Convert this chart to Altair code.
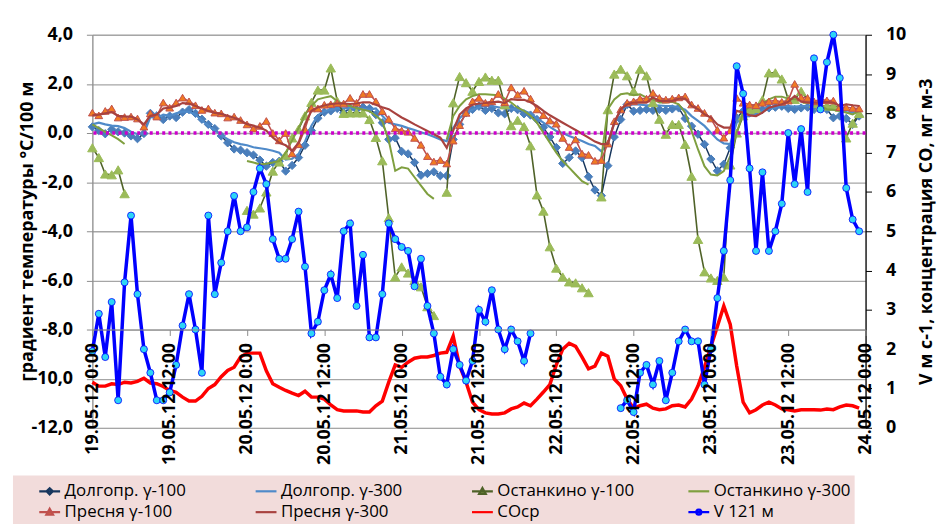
import altair as alt
import pandas as pd

# ---------------- data (hourly, 19.05.2012 00:00 ... ) ----------------
START = "2012-05-19T00:00:00Z"
SERIES = ["Долгопр. γ-100", "Долгопр. γ-300", "Останкино γ-100", "Останкино γ-300",
          "Пресня γ-100", "Пресня γ-300", "СОср", "V 121 м"]
TICK_HOURS = list(range(0, 121, 12))
LEFT_TICKS = list(range(-12, 5, 2))
RIGHT_TICKS = list(range(0, 11))
N = None

dolg100 = [0.25, 0.10, -0.03, 0.15, 0.05, 0.00, -0.12, -0.23, -0.02, 0.80,
           0.70, 0.55, 0.69, 0.63, 0.85, 0.95, 0.80, 0.56, 0.35, 0.18,
           -0.12, -0.40, -0.65, -0.70, -0.80, -0.90, -1.10, -1.35, -1.20, -1.15,
           -1.55, -1.32, -1.00, -0.50, 0.10, 0.60, 0.85, 0.90, 1.00, 0.82,
           1.00, 0.95, 1.05, 1.00, 0.75, 0.42, -0.26, -0.20, -0.75, -0.85,
           -1.20, -1.72, -1.65, -1.58, -1.74, -1.74, -0.26, 0.35, 0.82, 0.96,
           1.09, 0.92, 1.00, 0.82, 0.78, 1.00, 0.95, 0.78, 0.73, 0.55,
           0.22, -0.16, -0.59, -1.24, -1.00, -0.73, -1.00, -1.78, -2.32, -2.55,
           -1.33, -0.16, 0.55, 1.16, 0.89, 0.92, 0.96, 0.92, 0.96, 0.92,
           0.98, 1.02, 0.59, 0.28, -0.05, -0.46, -1.06, -1.54, -1.27, -0.60,
           0.62, 0.89, 0.82, 0.89, 0.96, 1.02, 1.05, 1.09, 1.00, 0.96,
           1.02, 1.05, 0.96, 1.00, 0.96, 0.62, 0.69, 0.59, 0.35, 0.69]

dolg300 = [0.35, 0.42, 0.35, 0.30, 0.28, 0.20, 0.05, -0.05, -0.02, 0.65,
           0.60, 0.75, 0.70, 0.80, 0.87, 0.87, 0.75, 0.52, 0.30, 0.12,
           -0.10, -0.25, -0.38, -0.45, -0.50, -0.58, -0.62, -0.66, -0.72, -0.80,
           -1.08, -1.05, -0.85, -0.35, 0.30, 0.72, 0.88, 0.95, 1.00, 1.00,
           1.02, 1.00, 0.98, 0.95, 1.00, 0.70, 0.42, 0.35, 0.29, 0.20,
           0.12, 0.03, -0.05, -0.15, -0.26, -0.33, 0.20, 0.60, 0.85, 0.95,
           1.05, 1.10, 1.10, 1.05, 1.00, 0.98, 0.95, 0.90, 0.80, 0.60,
           0.42, 0.25, 0.08, 0.00, -0.12, -0.22, -0.33, -0.45, -0.53, -0.75,
           -0.40, 0.42, 0.90, 1.10, 1.17, 1.15, 1.13, 1.13, 1.12, 1.10,
           1.10, 1.05, 0.95, 0.69, 0.49, 0.29, 0.01, -0.26, -0.42, -0.45,
           0.42, 0.63, 0.69, 0.80, 0.90, 0.97, 1.03, 1.10, 1.10, 1.08,
           1.10, 1.10, 1.10, 1.05, 1.00, 0.95, 0.90, 0.85, 0.83, 0.85]

ost100 = [-0.60, -1.00, -1.67, -1.70, -1.50, -2.47, N, N, N, N,
          N, N, N, N, N, N, N, N, N, N,
          N, N, N, N, -3.15, -3.30, -3.05, -2.40, -1.55, -1.18,
          -0.90, -0.20, 0.15, 0.70, 1.25, 1.75, 1.75, 2.65, 1.30, 0.80,
          0.82, 0.82, 0.82, 0.55, -0.18, -1.13, -3.45, -5.86, -5.45, -5.70,
          -6.00, -6.26, -7.07, -7.43, N, -2.41, 1.23, 2.30, 2.05, 1.70,
          2.10, 2.28, 2.15, 2.15, 1.15, 0.30, 0.52, 0.26, -0.52, -2.52,
          -3.18, -4.63, -5.50, -5.86, -6.06, -6.10, -6.30, -6.50, N, -2.60,
          0.95, 2.40, 2.60, 2.33, 1.70, 2.60, 2.33, 1.24, 0.56, -0.05,
          0.35, 0.35, -0.46, -1.76, -4.33, -5.65, -5.90, -6.00, -5.86, -1.30,
          0.00, 0.70, 0.95, 1.00, 1.35, 2.45, 2.45, 2.20, 1.37, 1.37,
          1.70, 1.37, 1.20, 1.10, 1.10, 1.10, 1.05, -0.20, 0.40, 0.80]

ost300 = [0.35, 0.20, 0.05, -0.10, -0.25, -0.45, N, N, N, N,
          N, N, N, N, N, N, N, N, N, N,
          N, N, N, N, -1.14, -1.20, -1.28, -1.25, -1.20, -1.14,
          -0.80, -0.30, 0.20, 0.76, 1.10, 1.37, 1.44, 1.50, 1.30, 1.16,
          1.10, 1.02, 0.95, 0.89, 0.70, 0.48, -0.31, -1.54, -1.40, -1.45,
          -1.80, -2.14, -2.48, -2.68, N, -0.26, 0.69, 1.10, 1.37, 1.50,
          1.58, 1.58, 1.56, 1.54, 1.40, 1.24, 1.03, 0.90, 0.70, 0.42,
          0.01, -0.39, -0.80, -1.14, -1.41, -1.69, -1.96, -2.10, N, -1.00,
          0.97, 1.37, 1.58, 1.62, 1.54, 1.58, 1.44, 1.37, 1.24, 1.24,
          1.27, 1.17, 0.83, 0.08, -0.67, -1.35, -1.69, -1.73, -1.55, -0.94,
          0.01, 0.83, 1.10, 1.15, 1.20, 1.37, 1.48, 1.48, 1.40, 1.37,
          1.38, 1.30, 1.24, 1.10, 0.97, 0.95, 0.90, 0.83, 0.76, 0.90]

pres100 = [0.83, 0.72, 0.90, 1.00, 0.63, 0.65, 0.67, 0.59, 0.26, 0.80,
           0.67, 1.24, 1.03, 1.24, 1.44, 1.29, 1.13, 0.94, 1.00, 0.83,
           0.80, 0.63, 0.67, 0.53, 0.35, 0.18, 0.29, 0.49, 0.00, -0.30,
           0.00, -0.83, -0.46, 0.15, 1.00, 1.00, 1.15, 1.17, 1.22, 1.20,
           1.43, 1.23, 1.59, 1.59, 1.29, 0.89, 0.57, 0.19, 0.10, 0.05,
           -0.20, -0.48, -0.94, -1.16, -1.10, -1.24, -0.31, 0.32, 0.82, 1.29,
           1.43, 1.23, 1.29, 1.59, 1.25, 1.86, 1.56, 1.72, 1.40, 0.96,
           0.73, 0.51, 0.38, -0.20, -0.57, -0.26, -0.84, -0.89, -1.13, -1.10,
           -0.43, 0.48, 0.96, 1.23, 1.29, 1.40, 1.40, 1.63, 1.43, 1.36,
           1.40, 1.45, 1.49, 1.16, 1.02, 0.82, 0.59, 0.13, -0.19, 0.11,
           1.43, 1.23, 1.16, 1.13, 1.23, 1.29, 1.32, 1.27, 1.32, 2.00,
           1.45, 1.43, 1.29, 1.36, 1.33, 1.32, 1.05, 1.05, 1.02, 1.00]

pres300 = [0.72, 0.75, 0.80, 0.85, 0.70, 0.68, 0.67, 0.55, 0.35, 0.70,
           0.75, 1.00, 1.03, 1.10, 1.22, 1.20, 1.10, 1.00, 0.90, 0.82,
           0.78, 0.70, 0.62, 0.50, 0.36, 0.30, 0.22, 0.10, -0.18, -0.40,
           -0.50, -0.72, -0.40, 0.35, 0.90, 1.05, 1.12, 1.18, 1.20, 1.20,
           1.18, 1.20, 1.25, 1.25, 1.15, 1.05, 0.97, 0.80, 0.63, 0.50,
           0.35, 0.22, 0.08, -0.05, -0.19, -0.60, 0.10, 0.75, 1.00, 1.15,
           1.20, 1.22, 1.25, 1.28, 1.22, 1.38, 1.35, 1.35, 1.25, 1.10,
           0.90, 0.72, 0.57, 0.42, 0.27, 0.12, -0.03, -0.19, -0.35, -0.45,
           -0.45, 0.40, 0.97, 1.17, 1.24, 1.24, 1.24, 1.44, 1.31, 1.31,
           1.31, 1.40, 1.40, 1.10, 0.97, 0.76, 0.63, 0.35, 0.22, 0.22,
           0.90, 0.83, 0.72, 0.69, 0.83, 1.03, 1.10, 1.17, 1.27, 1.51,
           1.27, 1.24, 1.24, 1.24, 1.27, 1.24, 1.10, 1.17, 1.13, 1.10]

co = [1.16, 1.06, 1.06, 1.12, 1.10, 1.16, 1.14, 1.18, 1.26, 1.14,
      1.12, 1.05, 0.95, 0.90, 0.78, 0.68, 0.68, 0.80, 1.00, 1.10,
      1.30, 1.46, 1.54, 1.80, 1.90, 1.90, 1.90, 1.45, 1.12, 1.03,
      0.95, 0.88, 0.82, 0.93, 0.78, 0.78, 0.73, 0.58, 0.46, 0.43,
      0.43, 0.43, 0.40, 0.40, 0.56, 0.68, 1.16, 1.60, 1.54, 1.67,
      1.77, 1.80, 1.80, 1.84, 1.90, 1.92, 2.33, 1.57, 1.16, 0.65,
      0.46, 0.38, 0.35, 0.35, 0.38, 0.48, 0.53, 0.63, 0.56, 0.73,
      0.91, 1.10, 1.60, 2.00, 2.15, 2.07, 1.80, 1.50, 1.57, 1.90,
      1.82, 1.24, 1.07, 0.73, 0.50, 0.56, 0.60, 0.50, 0.46, 0.48,
      0.56, 0.58, 0.53, 0.73, 1.07, 1.54, 2.07, 2.58, 3.10, 2.63,
      1.57, 0.65, 0.38, 0.46, 0.58, 0.65, 0.58, 0.48, 0.46, 0.43,
      0.46, 0.46, 0.46, 0.45, 0.48, 0.46, 0.53, 0.58, 0.56, 0.50]

v121 = [1.95, 2.90, 1.80, 3.20, 0.70, 3.70, 5.40, 3.40, 2.00, 1.40,
        0.70, 0.70, 0.90, 1.60, 2.60, 3.40, 2.50, 1.40, 5.40, 3.40,
        4.20, 5.00, 5.90, 5.00, 5.10, 6.00, 6.60, 6.20, 4.80, 4.30,
        4.30, 4.80, 5.50, 4.10, 2.40, 2.70, 3.50, 3.90, 3.30, 5.00,
        5.20, 3.10, 4.40, 2.30, 2.30, 3.40, 5.20, 4.80, 4.60, 4.50,
        3.60, 4.30, 3.10, 2.40, 1.30, 1.10, 2.00, 1.60, 1.20, 1.70,
        3.00, 2.70, 3.50, 2.50, 2.00, 2.50, 2.20, 1.70, 2.40, N,
        N, N, N, N, N, N, N, N, N, N,
        N, N, 0.50, 0.70, 0.40, 1.40, 1.60, 1.10, 1.70, 0.70,
        1.40, 2.20, 2.50, 2.20, 2.20, 1.10, 2.00, 3.30, 4.50, 6.30,
        9.20, 8.50, 6.60, 4.50, 6.50, 4.50, 5.00, 5.70, 7.50, 6.20,
        7.60, 6.00, 9.40, 8.10, 9.30, 10.00, 8.90, 6.10, 5.30, 5.00]

ZERO = [0.0]

# ---------------- helpers ----------------
T0 = int(pd.Timestamp(START).value // 10**6)
HOUR = 3600000


def frame(vals):
    rows, seg = [], 0
    for i, v in enumerate(vals):
        if v is None:
            seg += 1
            continue
        rows.append({"t": T0 + i * HOUR, "v": v, "seg": seg})
    return pd.DataFrame(rows)


FONT = "Open Sans"
GRAY = "#8C8C8C"

x_enc = alt.X(
    "t:T",
    title=None,
    scale=alt.Scale(type="utc", domain=[T0, T0 + 120 * HOUR], nice=False),
    axis=alt.Axis(
        values=[T0 + h * HOUR for h in TICK_HOURS],
        labelExpr="utcFormat(datum.value, '%d.%m.%y %-H:%M')",
        labelAngle=270, labelFont=FONT, labelFontSize=18, labelFontWeight="bold",
        labelColor="black", labelPadding=7, labelFlush=False, labelOverlap=False,
        labelBound=False, offset=-99, domainColor=GRAY, domainWidth=1.2,
        tickColor=GRAY, tickSize=6, grid=False, title=None, zindex=1),
)

y_left = alt.Y(
    "v:Q",
    scale=alt.Scale(domain=[-12, 4], nice=False, zero=False),
    axis=alt.Axis(
        values=LEFT_TICKS,
        labelExpr="(datum.value < 0 ? '-' : '') + replace(format(abs(datum.value), '.1f'), '.', ',')",
        labelFont=FONT, labelFontSize=18, labelFontWeight="bold", labelColor="black",
        labelPadding=14, tickColor=GRAY, tickSize=6, domainColor=GRAY, domainWidth=1.2,
        grid=True, gridColor="#A6A6A6", gridWidth=1.3,
        title="градиент температуры °C/100 м", titleFont=FONT, titleFontSize=18,
        titleFontWeight="bold", titleColor="black", titleAngle=270,
        titleBaseline="middle", titleX=-65, titleY=198),
)

y_right = alt.Y(
    "v:Q",
    scale=alt.Scale(domain=[0, 10], nice=False, zero=True),
    axis=alt.Axis(
        orient="right", values=RIGHT_TICKS, format="d",
        labelFont=FONT, labelFontSize=18, labelFontWeight="bold", labelColor="black",
        labelPadding=14, tickColor="black", tickSize=6, domainColor="black",
        domainWidth=1.3, grid=False,
        title="V м с-1, концентрация СО, мг м-3", titleFont=FONT, titleFontSize=18,
        titleFontWeight="bold", titleColor="black", titleAngle=270,
        titleBaseline="middle", titleX=61, titleY=198),
)


def line(vals, color, width, y):
    return alt.Chart(frame(vals)).mark_line(color=color, strokeWidth=width).encode(
        x=x_enc, y=y, detail="seg:N")


def pts(vals, shape, size, fill, stroke, y, sw=1.0):
    return alt.Chart(frame(vals)).mark_point(
        shape=shape, size=size, filled=True, fill=fill, stroke=stroke,
        strokeWidth=sw, opacity=1).encode(x=x_enc, y=y)


# ---------------- legend (built from scales) ----------------
LINE_COLORS = ["#17365D", "#4F8AC9", "#4F6228", "#7F9F3F",
               "#C0504D", "#A8423F", "#FF0000", "#0000FF"]
FILL_COLORS = ["#4A7EBB", "transparent", "#9BBB59", "transparent",
               "#F07B22", "transparent", "transparent", "#2DD5F5"]
P_LINE = "M-1,0H1"
P_DIAM = "M-1,0H1M-0.3,0L0,-0.3L0.3,0L0,0.3Z"
P_TRI = "M-1,0H1M0,-0.32L0.32,0.24L-0.32,0.24Z"
P_CIRC = "M-1,0H1M0.24,0A0.24,0.24,0,1,1,-0.24,0A0.24,0.24,0,1,1,0.24,0Z"
PATHS = [P_DIAM, P_LINE, P_TRI, P_LINE, P_TRI, P_LINE, P_LINE, P_CIRC]

leg = alt.Legend(
    title=None, orient="none", legendX=-80, legendY=444, columns=4,
    direction="horizontal",
    fillColor="#F2DCDB", padding=4, rowPadding=1, columnPadding=32,
    symbolOffset=21, symbolSize=441, symbolStrokeWidth=2.2,
    labelFont=FONT, labelFontSize=17, labelColor="black", labelOffset=3,
    labelLimit=400, gridAlign="all")

legend_layer = alt.Chart(pd.DataFrame({"series": SERIES})).mark_point(
    strokeWidth=2.2, opacity=1).encode(
    stroke=alt.Stroke("series:N", scale=alt.Scale(domain=SERIES, range=LINE_COLORS), legend=leg),
    fill=alt.Fill("series:N", scale=alt.Scale(domain=SERIES, range=FILL_COLORS), legend=leg),
    shape=alt.Shape("series:N", scale=alt.Scale(domain=SERIES, range=PATHS), legend=leg),
).transform_filter("false")

zero_rule = alt.Chart(pd.DataFrame({"v": ZERO})).mark_rule(
    color="#CC00CC", strokeWidth=3.5, strokeDash=[3, 3.3]).encode(y=y_left)

left = alt.layer(
    line(dolg100, "#17365D", 1.5, y_left),
    pts(dolg100, "diamond", 70, "#4A7EBB", "#4A7EBB", y_left),
    line(dolg300, "#4F8AC9", 2.2, y_left),
    line(ost100, "#4F6228", 1.6, y_left),
    pts(ost100, "triangle-up", 90, "#9BBB59", "#9BBB59", y_left),
    line(ost300, "#7F9F3F", 2.0, y_left),
    line(pres100, "#C0504D", 1.6, y_left),
    pts(pres100, "triangle-up", 60, "#F07B22", "#C0504D", y_left),
    line(pres300, "#A8423F", 2.2, y_left),
    zero_rule,
    legend_layer,
)

right = alt.layer(
    line(co, "#FF0000", 3.5, y_right),
    line(v121, "#0000FF", 3.5, y_right),
    pts(v121, "circle", 50, "#2DD5F5", "#0000FF", y_right, sw=0.8),
)

chart = alt.layer(left, right).resolve_scale(y="independent").properties(
    width=779, height=396,
    padding={"left": 5, "top": 16, "right": 5, "bottom": 0},
).configure_view(stroke=None).configure(background="white")

chart.save("out.html", embed_options={"renderer": "svg", "actions": False})
